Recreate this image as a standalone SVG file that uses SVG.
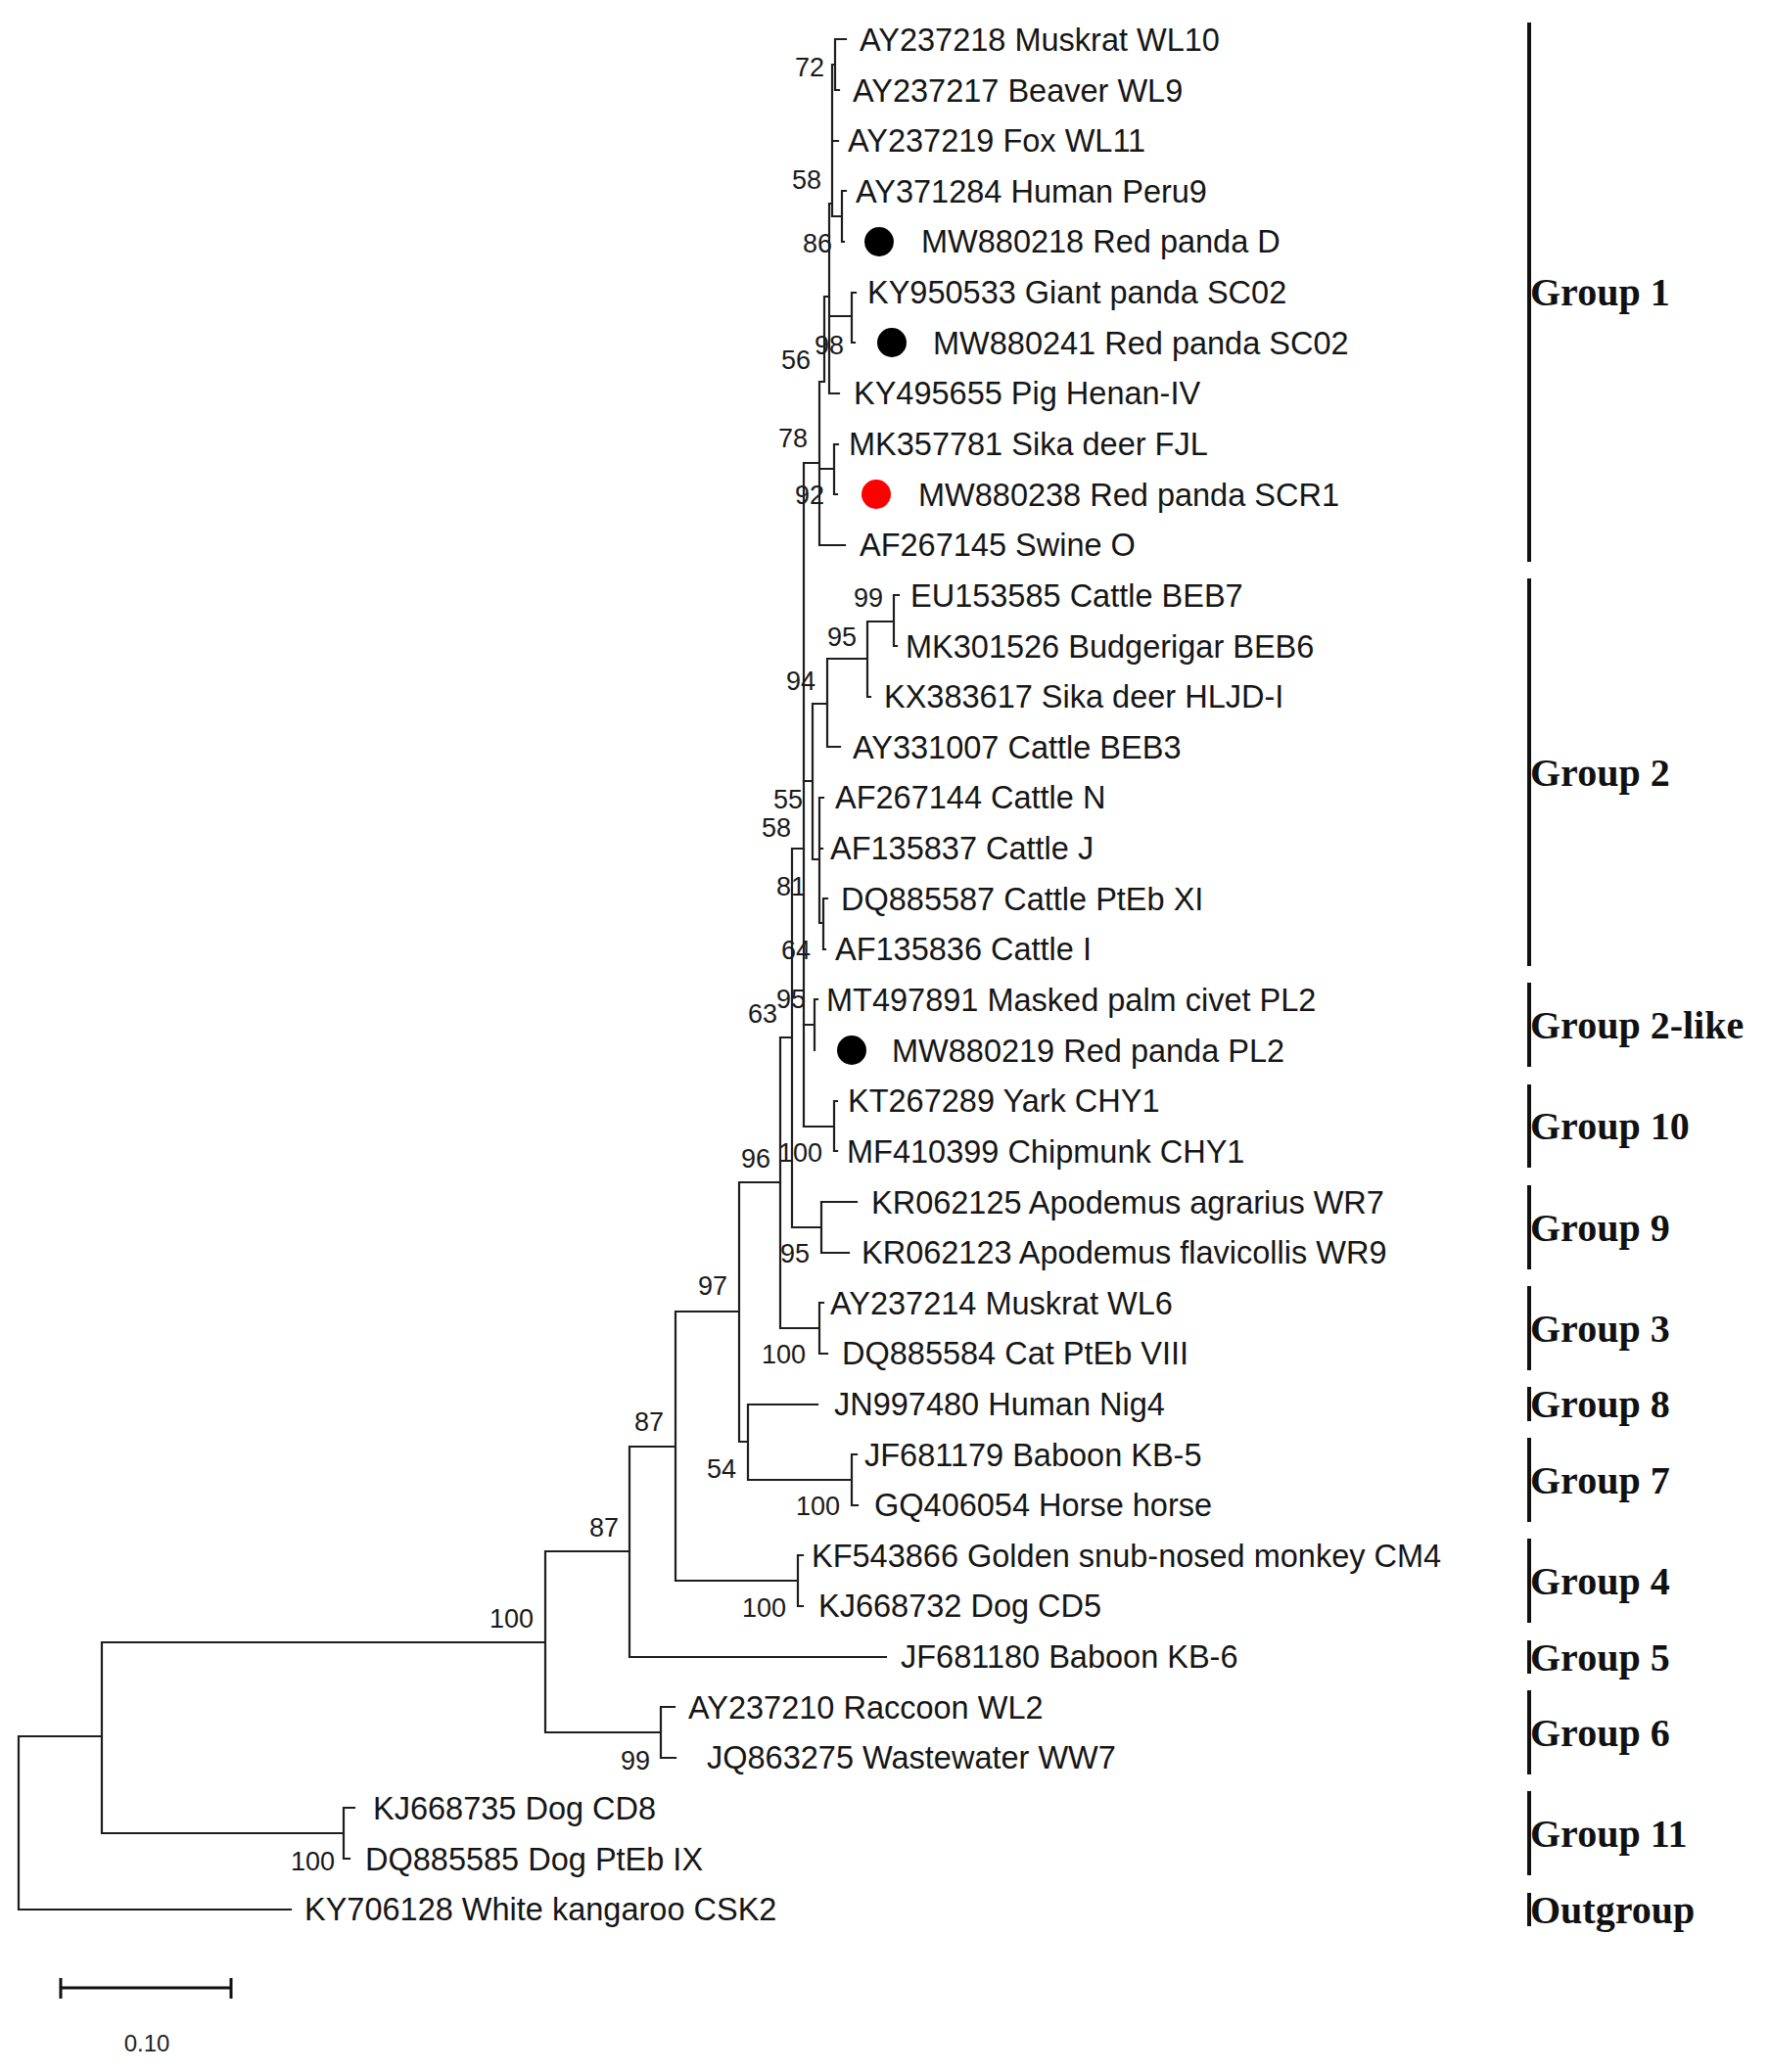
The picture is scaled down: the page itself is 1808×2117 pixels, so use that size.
<svg xmlns="http://www.w3.org/2000/svg" width="1808" height="2117" viewBox="0 0 1808 2117">
<style>
.br{fill:none;stroke:#1e1e1e;stroke-width:2.2;stroke-linecap:square}
.lf{font-family:"Liberation Sans",Arial,sans-serif;font-size:32.5px;fill:#161616}
.bs{font-family:"Liberation Sans",Arial,sans-serif;font-size:27px;fill:#1a1a1a;text-anchor:end}
.gp{font-family:"Liberation Serif","Times New Roman",serif;font-size:40px;font-weight:bold;fill:#111}
.bar{stroke:#111;stroke-width:4}
.dot{fill:#000}
.red{fill:#ff0000}
</style>
<rect width="1808" height="2117" fill="#fff"/>
<g id="connectors">
<path class="br" d="M853 40V92M853 40H864M853 92H857M850 66V221M850 66H853M850 144H856M850 221H860M860 195V247M860 195H864M860 247H862M847 208V402M847 208H850M847 323H870M847 402H857M870 299V350M870 299H874M870 350H873M842 303V390M842 303H847M837 390H842M837 390V557M837 557H863M837 479H852M852 454V505M852 454H856M852 505H855M821 473H837M821 473V1151"/>
<path class="br" d="M821 798H830M830 719V878M830 719H845M845 673V763M845 763H858M845 673H886M886 635V712M886 712H889M886 635H913M913 608V660M913 608H918M913 660H916M830 878H837M837 815V943M837 815H841M837 867H840M837 943H841M841 918V970M841 918H845M841 970H843"/>
<path class="br" d="M821 1047H832M832 1021V1073M832 1021H835M821 1151H852M852 1125V1176M852 1125H855M852 1176H855M809 867H821M809 867V1254M809 1254H839M839 1228V1280M839 1228H875M839 1280H867M797 1060H809M797 1060V1357M797 1357H837M837 1331V1383M837 1331H841M837 1383H845"/>
<path class="br" d="M755 1208H797M755 1208V1473M755 1473H764M764 1435V1512M764 1435H835M764 1512H870M870 1486V1538M870 1486H875M870 1538H876M690 1340H755M690 1340V1615M690 1615H815M815 1589V1641M815 1589H820M815 1641H820M643 1478H690M643 1478V1693M643 1693H905M557 1585H643M557 1585V1770M557 1770H675M675 1744V1796M675 1744H689M675 1796H690M104 1678H557M104 1678V1873M104 1873H351M351 1847V1899M351 1847H362M351 1899H357M19 1774H104M19 1774V1951M19 1951H297"/>
</g>
<g id="bootstrap">
<text class="bs" x="842" y="78">72</text>
<text class="bs" x="839" y="193">58</text>
<text class="bs" x="850" y="258">86</text>
<text class="bs" x="862" y="362">98</text>
<text class="bs" x="828" y="377">56</text>
<text class="bs" x="825" y="457">78</text>
<text class="bs" x="842" y="515">92</text>
<text class="bs" x="902" y="620">99</text>
<text class="bs" x="875" y="660">95</text>
<text class="bs" x="833" y="705">94</text>
<text class="bs" x="820" y="826">55</text>
<text class="bs" x="808" y="855">58</text>
<text class="bs" x="823" y="915">81</text>
<text class="bs" x="828" y="980">64</text>
<text class="bs" x="823" y="1030">95</text>
<text class="bs" x="794" y="1045">63</text>
<text class="bs" x="787" y="1193">96</text>
<text class="bs" x="840" y="1187">100</text>
<text class="bs" x="827" y="1290">95</text>
<text class="bs" x="743" y="1323">97</text>
<text class="bs" x="823" y="1393">100</text>
<text class="bs" x="678" y="1462">87</text>
<text class="bs" x="752" y="1510">54</text>
<text class="bs" x="858" y="1548">100</text>
<text class="bs" x="632" y="1570">87</text>
<text class="bs" x="803" y="1652">100</text>
<text class="bs" x="545" y="1663">100</text>
<text class="bs" x="664" y="1808">99</text>
<text class="bs" x="342" y="1911">100</text>
</g>
<g id="leaf-AY237218"><text class="lf" x="878" y="52">AY237218 Muskrat WL10</text></g>
<g id="leaf-AY237217"><text class="lf" x="871" y="104">AY237217 Beaver WL9</text></g>
<g id="leaf-AY237219"><text class="lf" x="866" y="155">AY237219 Fox WL11</text></g>
<g id="leaf-AY371284"><text class="lf" x="874" y="207">AY371284 Human Peru9</text></g>
<g id="leaf-MW880218"><circle class="dot" cx="898" cy="247" r="15"/><text class="lf" x="941" y="258">MW880218 Red panda D</text></g>
<g id="leaf-KY950533"><text class="lf" x="886" y="310">KY950533 Giant panda SC02</text></g>
<g id="leaf-MW880241"><circle class="dot" cx="911" cy="350" r="15"/><text class="lf" x="953" y="362">MW880241 Red panda SC02</text></g>
<g id="leaf-KY495655"><text class="lf" x="872" y="413">KY495655 Pig Henan-IV</text></g>
<g id="leaf-MK357781"><text class="lf" x="867" y="465">MK357781 Sika deer FJL</text></g>
<g id="leaf-MW880238"><circle class="red" cx="895" cy="505" r="15"/><text class="lf" x="938" y="517">MW880238 Red panda SCR1</text></g>
<g id="leaf-AF267145"><text class="lf" x="878" y="568">AF267145 Swine O</text></g>
<g id="leaf-EU153585"><text class="lf" x="930" y="620">EU153585 Cattle BEB7</text></g>
<g id="leaf-MK301526"><text class="lf" x="925" y="672">MK301526 Budgerigar BEB6</text></g>
<g id="leaf-KX383617"><text class="lf" x="903" y="723">KX383617 Sika deer HLJD-I</text></g>
<g id="leaf-AY331007"><text class="lf" x="871" y="775">AY331007 Cattle BEB3</text></g>
<g id="leaf-AF267144"><text class="lf" x="853" y="826">AF267144 Cattle N</text></g>
<g id="leaf-AF135837"><text class="lf" x="848" y="878">AF135837 Cattle J</text></g>
<g id="leaf-DQ885587"><text class="lf" x="859" y="930">DQ885587 Cattle PtEb XI</text></g>
<g id="leaf-AF135836"><text class="lf" x="853" y="981">AF135836 Cattle I</text></g>
<g id="leaf-MT497891"><text class="lf" x="844" y="1033">MT497891 Masked palm civet PL2</text></g>
<g id="leaf-MW880219"><circle class="dot" cx="870" cy="1073" r="15"/><text class="lf" x="911" y="1085">MW880219 Red panda PL2</text></g>
<g id="leaf-KT267289"><text class="lf" x="866" y="1136">KT267289 Yark CHY1</text></g>
<g id="leaf-MF410399"><text class="lf" x="865" y="1188">MF410399 Chipmunk CHY1</text></g>
<g id="leaf-KR062125"><text class="lf" x="890" y="1240">KR062125 Apodemus agrarius WR7</text></g>
<g id="leaf-KR062123"><text class="lf" x="880" y="1291">KR062123 Apodemus flavicollis WR9</text></g>
<g id="leaf-AY237214"><text class="lf" x="848" y="1343">AY237214 Muskrat WL6</text></g>
<g id="leaf-DQ885584"><text class="lf" x="860" y="1394">DQ885584 Cat PtEb VIII</text></g>
<g id="leaf-JN997480"><text class="lf" x="852" y="1446">JN997480 Human Nig4</text></g>
<g id="leaf-JF681179"><text class="lf" x="883" y="1498">JF681179 Baboon KB-5</text></g>
<g id="leaf-GQ406054"><text class="lf" x="893" y="1549">GQ406054 Horse horse</text></g>
<g id="leaf-KF543866"><text class="lf" x="829" y="1601">KF543866 Golden snub-nosed monkey CM4</text></g>
<g id="leaf-KJ668732"><text class="lf" x="836" y="1652">KJ668732 Dog CD5</text></g>
<g id="leaf-JF681180"><text class="lf" x="920" y="1704">JF681180 Baboon KB-6</text></g>
<g id="leaf-AY237210"><text class="lf" x="703" y="1756">AY237210 Raccoon WL2</text></g>
<g id="leaf-JQ863275"><text class="lf" x="722" y="1807">JQ863275 Wastewater WW7</text></g>
<g id="leaf-KJ668735"><text class="lf" x="381" y="1859">KJ668735 Dog CD8</text></g>
<g id="leaf-DQ885585"><text class="lf" x="373" y="1911">DQ885585 Dog PtEb IX</text></g>
<g id="leaf-KY706128"><text class="lf" x="311" y="1962">KY706128 White kangaroo CSK2</text></g>
<g id="group-1"><line class="bar" x1="1562" y1="23" x2="1562" y2="574"/><text class="gp" x="1563" y="312">Group 1</text></g>
<g id="group-2"><line class="bar" x1="1562" y1="591" x2="1562" y2="987"/><text class="gp" x="1563" y="803">Group 2</text></g>
<g id="group-2-like"><line class="bar" x1="1562" y1="1004" x2="1562" y2="1090"/><text class="gp" x="1563" y="1061">Group 2-like</text></g>
<g id="group-10"><line class="bar" x1="1562" y1="1108" x2="1562" y2="1193"/><text class="gp" x="1563" y="1164">Group 10</text></g>
<g id="group-9"><line class="bar" x1="1562" y1="1211" x2="1562" y2="1297"/><text class="gp" x="1563" y="1268">Group 9</text></g>
<g id="group-3"><line class="bar" x1="1562" y1="1314" x2="1562" y2="1400"/><text class="gp" x="1563" y="1371">Group 3</text></g>
<g id="group-8"><line class="bar" x1="1562" y1="1417" x2="1562" y2="1452"/><text class="gp" x="1563" y="1448">Group 8</text></g>
<g id="group-7"><line class="bar" x1="1562" y1="1469" x2="1562" y2="1555"/><text class="gp" x="1563" y="1526">Group 7</text></g>
<g id="group-4"><line class="bar" x1="1562" y1="1572" x2="1562" y2="1658"/><text class="gp" x="1563" y="1629">Group 4</text></g>
<g id="group-5"><line class="bar" x1="1562" y1="1676" x2="1562" y2="1710"/><text class="gp" x="1563" y="1707">Group 5</text></g>
<g id="group-6"><line class="bar" x1="1562" y1="1727" x2="1562" y2="1813"/><text class="gp" x="1563" y="1784">Group 6</text></g>
<g id="group-11"><line class="bar" x1="1562" y1="1830" x2="1562" y2="1916"/><text class="gp" x="1563" y="1887">Group 11</text></g>
<g id="outgroup"><line class="bar" x1="1562" y1="1934" x2="1562" y2="1968"/><text class="gp" x="1563" y="1965">Outgroup</text></g>
<g id="scale-bar">
<path d="M62 2031H236M62 2021V2042M236 2021V2042" fill="none" stroke="#111" stroke-width="3"/>
<text x="150" y="2096" text-anchor="middle" font-family="'Liberation Sans',Arial,sans-serif" font-size="24" fill="#222">0.10</text>
</g>
</svg>
